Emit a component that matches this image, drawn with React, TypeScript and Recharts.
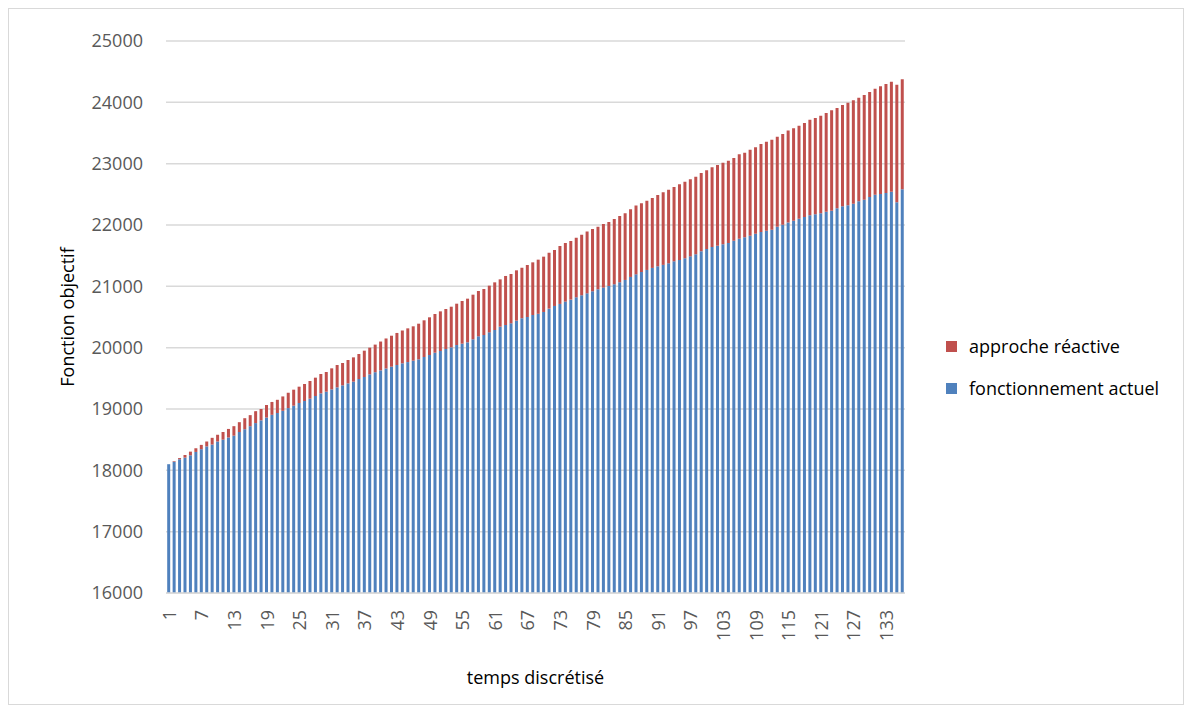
import React from 'react';
import { BarChart, Bar, XAxis, YAxis, CartesianGrid, Legend } from 'recharts';

// temps discrétisé 1..136
const temps = [
  1, 2, 3, 4, 5, 6, 7, 8, 9, 10, 11, 12, 13, 14, 15, 16, 17, 18, 19, 20,
  21, 22, 23, 24, 25, 26, 27, 28, 29, 30, 31, 32, 33, 34, 35, 36, 37, 38, 39, 40,
  41, 42, 43, 44, 45, 46, 47, 48, 49, 50, 51, 52, 53, 54, 55, 56, 57, 58, 59, 60,
  61, 62, 63, 64, 65, 66, 67, 68, 69, 70, 71, 72, 73, 74, 75, 76, 77, 78, 79, 80,
  81, 82, 83, 84, 85, 86, 87, 88, 89, 90, 91, 92, 93, 94, 95, 96, 97, 98, 99, 100,
  101, 102, 103, 104, 105, 106, 107, 108, 109, 110, 111, 112, 113, 114, 115, 116, 117, 118, 119, 120,
  121, 122, 123, 124, 125, 126, 127, 128, 129, 130, 131, 132, 133, 134, 135, 136
];

// fonctionnement actuel (blue, lower part)
const fonctionnementActuel = [
  18100, 18140, 18180, 18207, 18245, 18300, 18345, 18390, 18420, 18470,
  18500, 18535, 18565, 18625, 18670, 18720, 18770, 18815, 18860, 18905,
  18935, 18970, 19015, 19054, 19098, 19130, 19168, 19212, 19255, 19282,
  19320, 19353, 19386, 19418, 19446, 19489, 19522, 19565, 19600, 19630,
  19660, 19690, 19717, 19745, 19765, 19788, 19810, 19848, 19880, 19918,
  19946, 19978, 20005, 20043, 20065, 20087, 20136, 20185, 20206, 20250,
  20288, 20342, 20370, 20397, 20440, 20478, 20500, 20533, 20552, 20582,
  20636, 20680, 20713, 20751, 20783, 20821, 20854, 20886, 20919, 20952,
  20979, 21006, 21033, 21066, 21104, 21153, 21196, 21234, 21267, 21300,
  21327, 21350, 21375, 21408, 21429, 21457, 21489, 21522, 21571, 21609,
  21641, 21663, 21685, 21707, 21745, 21777, 21799, 21826, 21859, 21886,
  21908, 21924, 21973, 22005, 22040, 22071, 22103, 22130, 22158, 22174,
  22190, 22217, 22234, 22272, 22304, 22321, 22348, 22386, 22413, 22457,
  22495, 22505, 22522, 22543, 22370, 22582
];

// approche réactive: top of the stacked bar
const approcheReactiveTotal = [
  18100, 18150, 18200, 18250, 18305, 18360, 18415, 18470, 18530, 18580,
  18625, 18675, 18720, 18785, 18850, 18900, 18965, 19000, 19065, 19115,
  19150, 19205, 19265, 19315, 19364, 19408, 19457, 19511, 19571, 19603,
  19663, 19717, 19750, 19799, 19842, 19897, 19951, 20000, 20050, 20100,
  20150, 20195, 20240, 20280, 20315, 20348, 20391, 20446, 20495, 20549,
  20592, 20630, 20668, 20717, 20761, 20799, 20864, 20924, 20957, 21011,
  21065, 21114, 21169, 21201, 21261, 21304, 21348, 21391, 21435, 21484,
  21549, 21593, 21658, 21707, 21740, 21794, 21843, 21892, 21935, 21973,
  22017, 22050, 22098, 22147, 22191, 22256, 22316, 22354, 22397, 22441,
  22490, 22536, 22576, 22620, 22663, 22707, 22745, 22788, 22848, 22891,
  22940, 22978, 23016, 23049, 23092, 23152, 23179, 23228, 23266, 23321,
  23359, 23391, 23440, 23484, 23541, 23576, 23620, 23663, 23717, 23745,
  23783, 23826, 23870, 23908, 23957, 23995, 24033, 24076, 24120, 24169,
  24223, 24261, 24299, 24337, 24288, 24375
];

const yTicks = [16000, 17000, 18000, 19000, 20000, 21000, 22000, 23000, 24000, 25000];

const data = temps.map((t, i) => ({
  t,
  actuel: fonctionnementActuel[i],
  reactive: approcheReactiveTotal[i] - fonctionnementActuel[i]
}));

const FONT = '"Open Sans", "Noto Sans", sans-serif';
const BLUE = '#4F81BD';
const RED = '#C0504D';

const XTick = (props: any) => {
  const { x, y, payload } = props;
  const ty = y + 9;
  return (
    <text
      x={x}
      y={ty}
      transform={`rotate(-90 ${x} ${ty})`}
      textAnchor="end"
      dominantBaseline="central"
      fill="#595959"
      fontSize={18}
      fontFamily={FONT}
    >
      {payload.value}
    </text>
  );
};

const LegendBox = () => (
  <div style={{ fontFamily: FONT, fontSize: 18, color: '#000', paddingLeft: 41 }}>
    {[
      { name: 'approche réactive', color: RED },
      { name: 'fonctionnement actuel', color: BLUE }
    ].map((item) => (
      <div key={item.name} style={{ height: 42, display: 'flex', alignItems: 'center' }}>
        <span style={{ width: 11, height: 11, background: item.color, marginRight: 12, display: 'inline-block' }} />
        <span style={{ whiteSpace: 'nowrap' }}>{item.name}</span>
      </div>
    ))}
  </div>
);

export default function App() {
  return (
    <div
      style={{
        width: 1176,
        height: 697,
        border: '1px solid #d9d9d9',
        boxSizing: 'border-box',
        background: '#fff',
        position: 'relative'
      }}
    >
      <BarChart
        width={1174}
        height={695}
        data={data}
        margin={{ top: 32, right: 8, left: 0, bottom: 0 }}
        barCategoryGap="22%"
      >
        <CartesianGrid vertical={false} stroke="#d9d9d9" strokeWidth={1.5} />
        <XAxis
          dataKey="t"
          interval={5}
          height={111}
          tickLine={false}
          axisLine={{ stroke: '#d9d9d9', strokeWidth: 1.5 }}
          tick={<XTick />}
          label={{
            content: (p: any) => {
              const vb = p.viewBox;
              return (
                <text
                  x={vb.x + vb.width / 2}
                  y={vb.y + 84}
                  textAnchor="middle"
                  dominantBaseline="central"
                  fontSize={18}
                  fontFamily={FONT}
                  fill="#000"
                >
                  temps discrétisé
                </text>
              );
            }
          }}
        />
        <YAxis
          width={157}
          domain={[16000, 25000]}
          ticks={yTicks}
          allowDataOverflow
          axisLine={false}
          tickLine={false}
          tickSize={0}
          tickMargin={23}
          tick={{ fill: '#595959', fontSize: 18, fontFamily: FONT }}
          label={{
            content: (p: any) => {
              const vb = p.viewBox;
              const cx = vb.x + 58;
              const cy = vb.y + vb.height / 2;
              return (
                <text
                  x={cx}
                  y={cy}
                  transform={`rotate(-90 ${cx} ${cy})`}
                  textAnchor="middle"
                  dominantBaseline="central"
                  fontSize={18}
                  fontFamily={FONT}
                  fill="#000"
                >
                  Fonction objectif
                </text>
              );
            }
          }}
        />
        <Legend
          layout="vertical"
          align="right"
          verticalAlign="middle"
          width={270}
          wrapperStyle={{ top: 316 }}
          content={<LegendBox />}
        />
        <Bar dataKey="actuel" name="fonctionnement actuel" stackId="a" fill={BLUE} isAnimationActive={false} />
        <Bar dataKey="reactive" name="approche réactive" stackId="a" fill={RED} isAnimationActive={false} />
      </BarChart>
    </div>
  );
}
